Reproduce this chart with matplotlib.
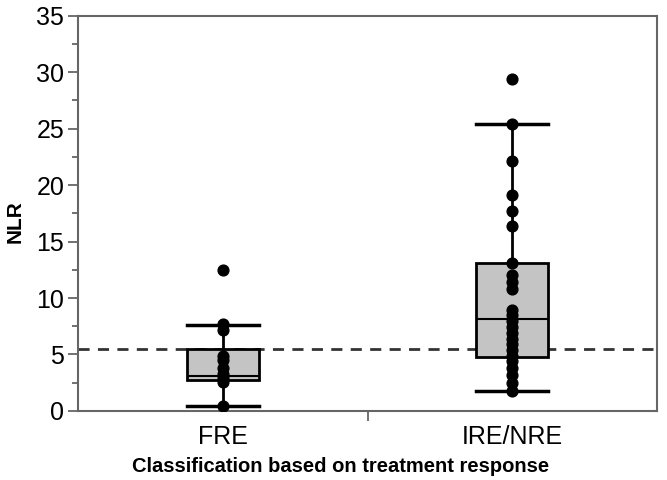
import matplotlib.pyplot as plt
from matplotlib.ticker import MultipleLocator, FixedLocator

plt.rcParams['font.family'] = ['Liberation Sans', 'DejaVu Sans']

# datos
grupos = ['FRE', 'IRE/NRE']
puntos_fre = [12.5, 7.7, 7.2, 4.9, 4.5, 3.8, 3.3, 2.9, 2.6, 0.45]
puntos_ire = [29.4, 25.4, 22.1, 19.1, 17.7, 16.4, 13.1, 12.0, 11.4, 10.8, 8.9,
              8.5, 8.0, 7.4, 6.9, 6.4, 5.9, 5.4, 4.9, 4.4, 3.8, 3.2, 2.5, 1.8]

# estadísticos de las cajas (bigote inferior, Q1, mediana, Q3, bigote superior)
bigote_inf = [0.45, 1.8]
q1 = [2.75, 4.75]
mediana = [3.05, 8.15]
q3 = [5.45, 13.1]
bigote_sup = [7.6, 25.4]

corte_nlr = 5.5

fig = plt.figure(figsize=(6.67, 4.8), dpi=100)
ax = fig.add_axes([0.117, 0.144, 0.868, 0.823])

stats = []
for i, g in enumerate(grupos):
    stats.append({'label': g, 'whislo': bigote_inf[i], 'q1': q1[i], 'med': mediana[i],
                  'q3': q3[i], 'whishi': bigote_sup[i], 'fliers': []})

ax.bxp(stats, positions=[0, 1], widths=0.25, patch_artist=True, showfliers=False,
       boxprops=dict(facecolor='#c4c4c4', edgecolor='black', linewidth=2),
       medianprops=dict(color='black', linewidth=1.5),
       whiskerprops=dict(color='black', linewidth=2),
       capprops=dict(color='black', linewidth=2.5), capwidths=0.25)

ax.axhline(corte_nlr, color='#333333', linestyle=(0, (4, 3)), linewidth=2, zorder=1)

for i, pts in enumerate([puntos_fre, puntos_ire]):
    ax.scatter([i] * len(pts), pts, s=60, color='black', zorder=5)

ax.set_xlim(-0.5, 1.5)
ax.set_ylim(0, 35)
ax.yaxis.set_major_locator(MultipleLocator(5))
ax.yaxis.set_minor_locator(MultipleLocator(2.5))
ax.set_xticks([0, 1])
ax.set_xticklabels(grupos)
ax.xaxis.set_minor_locator(FixedLocator([0.5]))
ax.tick_params(axis='x', which='major', length=0, labelsize=18, pad=10)
ax.tick_params(axis='x', which='minor', length=7, width=1.3, color='#666666')
ax.tick_params(axis='y', which='major', length=7, width=1.3, color='#666666',
               labelsize=18, pad=3)
ax.tick_params(axis='y', which='minor', length=4, width=1.3, color='#666666')
for s in ax.spines.values():
    s.set_color('#666666')
    s.set_linewidth(1.5)

ax.set_ylabel('NLR', fontsize=15, fontweight='bold', labelpad=8, y=0.48)
ax.set_xlabel('Classification based on treatment response', fontsize=14.5,
              fontweight='bold', labelpad=6, x=0.453, ha='center')

fig.savefig('out.png', dpi=100)
